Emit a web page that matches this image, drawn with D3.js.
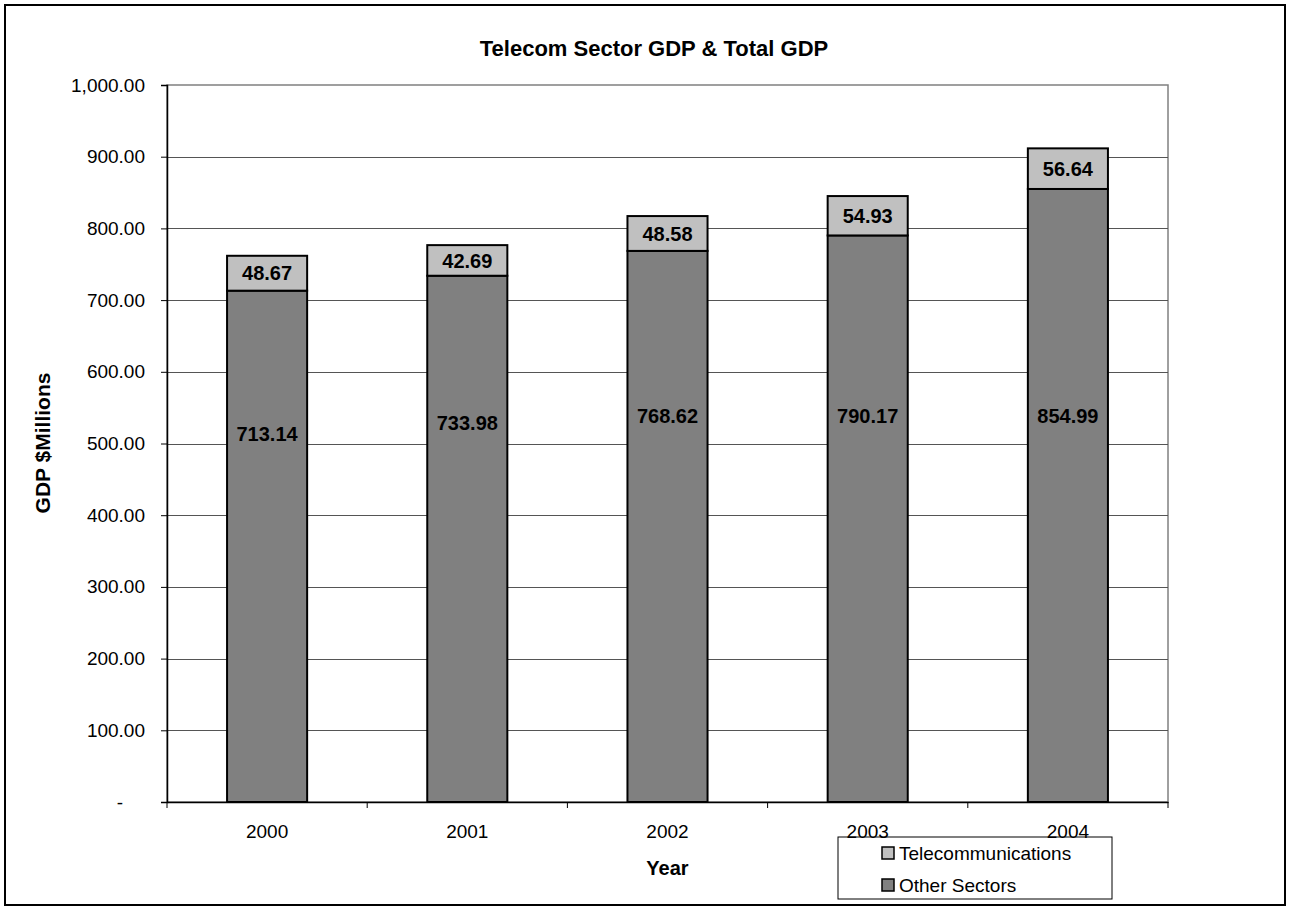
<!DOCTYPE html>
<html>
<head>
<meta charset="utf-8">
<script src="https://cdn.jsdelivr.net/npm/d3@7"></script>
<style>
  body { margin: 0; background: #fff; }
  text { font-family: "Liberation Sans", Arial, sans-serif; fill: #000; }
</style>
</head>
<body>
<svg></svg>
<script>
const years = ["2000", "2001", "2002", "2003", "2004"]
const otherSectors = [713.14, 733.98, 768.62, 790.17, 854.99]
const telecom = [48.67, 42.69, 48.58, 54.93, 56.64]
const yTicks = [0, 100, 200, 300, 400, 500, 600, 700, 800, 900, 1000]
const seriesNames = ["Telecommunications", "Other Sectors"]

const width = 1293, height = 909
const plot = { left: 167, right: 1168, top: 85, bottom: 802 }

const svg = d3.select("svg")
  .attr("width", width)
  .attr("height", height)

// outer chart border
svg.append("rect")
  .attr("x", 5).attr("y", 5)
  .attr("width", 1280).attr("height", 900)
  .attr("fill", "#fff")
  .attr("stroke", "#000")
  .attr("stroke-width", 2)

const x = d3.scaleBand()
  .domain(years)
  .range([plot.left, plot.right])
  .paddingInner(0.6)
  .paddingOuter(0.3)

const y = d3.scaleLinear()
  .domain([0, 1000])
  .range([plot.bottom, plot.top])

const fmt = d3.format(",.2f")

// plot frame (gray)
svg.append("rect")
  .attr("x", plot.left).attr("y", plot.top)
  .attr("width", plot.right - plot.left).attr("height", plot.bottom - plot.top)
  .attr("fill", "none")
  .attr("stroke", "#808080")
  .attr("stroke-width", 1.5)

// gridlines
svg.append("g")
  .selectAll("line")
  .data(yTicks.filter(d => d > 0 && d < 1000))
  .join("line")
    .attr("x1", plot.left).attr("x2", plot.right)
    .attr("y1", d => Math.round(y(d)) + 0.5)
    .attr("y2", d => Math.round(y(d)) + 0.5)
    .attr("stroke", "#555")
    .attr("stroke-width", 1.2)

// y axis
const yAxis = d3.axisLeft(y)
  .tickValues(yTicks)
  .tickSize(6)
  .tickPadding(16)
  .tickFormat(d => d === 0 ? "-" : fmt(d))

const gy = svg.append("g")
  .attr("transform", `translate(${plot.left},0)`)
  .call(yAxis)
gy.select(".domain").attr("stroke", "#000").attr("stroke-width", 1.5)
gy.selectAll(".tick line").attr("stroke", "#000")
gy.selectAll("text")
  .attr("font-size", 19)
  .attr("font-family", "Liberation Sans, Arial, sans-serif")
  .attr("fill", "#000")
gy.selectAll(".tick").filter(d => d === 0).select("text").attr("dx", -22)

// x axis with ticks on category boundaries
const gx = svg.append("g")
  .attr("transform", `translate(0,${plot.bottom})`)
  .call(d3.axisBottom(x).tickSize(0).tickPadding(23))
gx.select(".domain").attr("stroke", "#000").attr("stroke-width", 1.5)
gx.selectAll("text")
  .attr("font-size", 19)
  .attr("font-family", "Liberation Sans, Arial, sans-serif")
  .attr("fill", "#000")

const step = x.step()
gx.selectAll(".sep")
  .data(d3.range(years.length + 1))
  .join("line")
    .attr("x1", i => plot.left + i * step)
    .attr("x2", i => plot.left + i * step)
    .attr("y1", 0).attr("y2", 6)
    .attr("stroke", "#000")

// bars
const rows = years.map((yr, i) => ({ year: yr, other: otherSectors[i], telecom: telecom[i] }))
const stack = d3.stack().keys(["other", "telecom"])(rows)
const colors = { other: "#808080", telecom: "#c0c0c0" }

svg.append("g")
  .selectAll("g")
  .data(stack)
  .join("g")
    .attr("fill", d => colors[d.key])
  .selectAll("rect")
  .data(d => d)
  .join("rect")
    .attr("x", d => x(d.data.year))
    .attr("y", d => y(d[1]))
    .attr("width", x.bandwidth())
    .attr("height", d => y(d[0]) - y(d[1]))
    .attr("stroke", "#000")
    .attr("stroke-width", 2)

// labels
svg.append("g")
  .selectAll("text")
  .data(rows)
  .join("text")
    .attr("x", d => x(d.year) + x.bandwidth() / 2)
    .attr("y", d => y(d.other + d.telecom / 2))
    .attr("dy", "0.36em")
    .attr("text-anchor", "middle")
    .attr("font-size", 20)
    .attr("font-weight", "bold")
    .text(d => fmt(d.telecom))

svg.append("g")
  .selectAll("text")
  .data(rows)
  .join("text")
    .attr("x", d => x(d.year) + x.bandwidth() / 2)
    .attr("y", d => y(Math.min(d.other * 0.72, 538)))
    .attr("dy", "0.36em")
    .attr("text-anchor", "middle")
    .attr("font-size", 20)
    .attr("font-weight", "bold")
    .text(d => fmt(d.other))

// titles
svg.append("text")
  .attr("x", 654).attr("y", 48)
  .attr("dy", "0.36em")
  .attr("text-anchor", "middle")
  .attr("font-size", 22)
  .attr("font-weight", "bold")
  .text("Telecom Sector GDP & Total GDP")

svg.append("text")
  .attr("transform", "translate(42,443) rotate(-90)")
  .attr("dy", "0.36em")
  .attr("text-anchor", "middle")
  .attr("font-size", 21)
  .attr("font-weight", "bold")
  .text("GDP $Millions")

svg.append("text")
  .attr("x", x("2002") + x.bandwidth() / 2).attr("y", 868)
  .attr("dy", "0.36em")
  .attr("text-anchor", "middle")
  .attr("font-size", 20)
  .attr("font-weight", "bold")
  .text("Year")

// legend (no fill, so the year labels it touches stay visible)
const legend = svg.append("g").attr("transform", "translate(838,837)")
legend.append("rect")
  .attr("width", 274).attr("height", 62)
  .attr("fill", "none")
  .attr("stroke", "#000")
  .attr("stroke-width", 1)

const items = legend.selectAll(".item")
  .data(seriesNames)
  .join("g")
    .attr("class", "item")
    .attr("transform", (d, i) => `translate(44,${16 + i * 32})`)

items.append("rect")
  .attr("y", -6)
  .attr("width", 12).attr("height", 12)
  .attr("fill", (d, i) => i === 0 ? colors.telecom : colors.other)
  .attr("stroke", "#000")
  .attr("stroke-width", 1.5)

items.append("text")
  .attr("x", 17)
  .attr("dy", "0.36em")
  .attr("font-size", 19)
  .text(d => d)
</script>
</body>
</html>
